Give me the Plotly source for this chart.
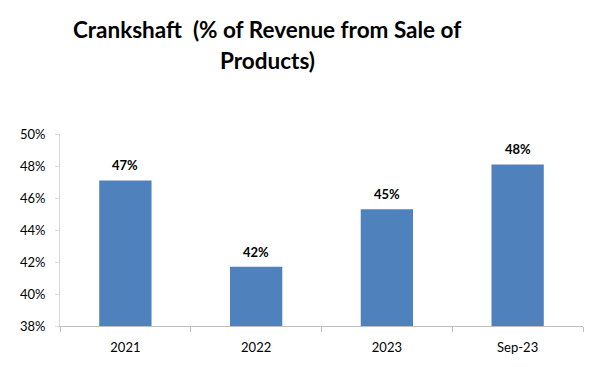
import plotly.graph_objects as go

categories = ["2021", "2022", "2023", "Sep-23"]
values = [47.1, 41.7, 45.3, 48.1]
y_ticks = [38, 40, 42, 44, 46, 48, 50]
y_tick_labels = [f"{v}%" for v in y_ticks]
title_lines = ["Crankshaft  (% of Revenue from Sale of", "Products)"]

FONT = "Lato, 'Open Sans', sans-serif"

# page body has an 8px margin; figure sized so it fits the 600x367 window
W, H = 592, 359
L, R, T, B = 42, 17, 126, 39
plot_h = H - T - B

fig = go.Figure()
fig.add_trace(go.Bar(
    x=categories, y=values,
    marker=dict(color="#4F81BD", line=dict(width=0)),
    width=0.4,
))

annotations = []
for i, v in enumerate(values):
    annotations.append(dict(
        x=i, y=v, xref="x", yref="y", text=f"<b>{v:.0f}%</b>", showarrow=False,
        yanchor="middle", yshift=15,
        font=dict(family=FONT, size=13, color="#000000"),
    ))

title_centers_y = [20.0, 52.0]
for line, cy in zip(title_lines, title_centers_y):
    annotations.append(dict(
        text=f"<b>{line}</b>",
        xref="paper", yref="paper",
        x=(253 - L) / (W - L - R), y=(H - B - cy) / plot_h,
        xanchor="center", yanchor="middle", showarrow=False,
        font=dict(family=FONT, size=22.5, color="#000000"),
    ))

fig.update_layout(
    width=W, height=H,
    margin=dict(l=L, r=R, t=T, b=B),
    paper_bgcolor="white", plot_bgcolor="white",
    showlegend=False,
    font=dict(family=FONT, size=13, color="#000000"),
    annotations=annotations,
)

fig.update_xaxes(
    type="category", categoryorder="array", categoryarray=categories,
    range=[-0.5, 3.5],
    showline=True, linecolor="#BFBFBF", linewidth=1,
    ticks="outside", tickson="boundaries", ticklen=5, tickcolor="#BFBFBF",
    ticklabelstandoff=9,
    showgrid=False,
    tickfont=dict(family=FONT, size=13, color="#000000"),
)
fig.update_yaxes(
    range=[38, 50],
    tickvals=y_ticks, ticktext=y_tick_labels,
    showline=True, linecolor="#D9D9D9", linewidth=1,
    ticks="outside", ticklen=4, tickcolor="#D9D9D9",
    ticklabelstandoff=7,
    showgrid=False, zeroline=False,
    tickfont=dict(family=FONT, size=13, color="#000000"),
)

fig.write_html("out.html")
